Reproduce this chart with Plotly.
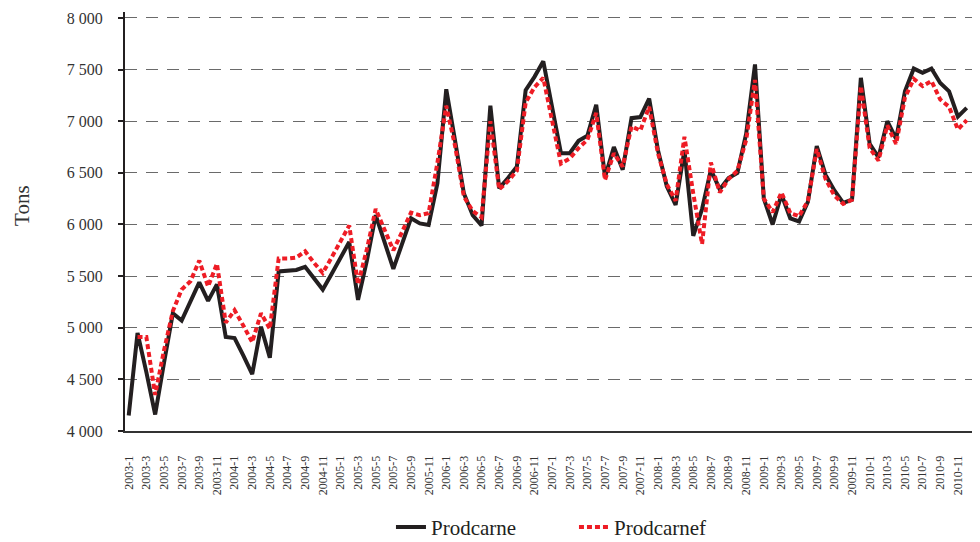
import plotly.graph_objects as go

years = list(range(2003, 2011))
months = [f"{y}-{m}" for y in years for m in range(1, 13)]
tick_labels = months[::2]

prodcarne = [
    4150, 4950, 4570, 4160, 4660, 5140, 5070, 5260, 5440, 5260, 5420, 4910,
    4900, 4730, 4550, 5010, 4710, 5545, 5550, 5560, 5590, 5480, 5370, 5520,
    5680, 5830, 5270, 5650, 6090, 5830, 5570, 5815, 6060, 6010, 5995, 6400,
    7310, 6810, 6300, 6090, 5990, 7150, 6350, 6450, 6560, 7300, 7430, 7580,
    7140, 6690, 6690, 6810, 6860, 7160, 6460, 6750, 6530, 7030, 7040, 7220,
    6720, 6370, 6190, 6720, 5890, 6150, 6530, 6340, 6450, 6500, 6880, 7550,
    6250, 6000, 6290, 6060, 6030, 6220, 6760, 6480, 6330, 6210, 6240, 7420,
    6780, 6650, 7000, 6830, 7290, 7510, 7470, 7510, 7370, 7290, 7045, 7130,
]

prodcarnef = [
    None, 4910, 4910, 4350, 4780, 5160, 5370, 5450, 5650, 5400, 5620, 5050,
    5170, 5020, 4860, 5140, 4990, 5670, 5670, 5680, 5740, 5630, 5530, 5680,
    5840, 5990, 5420, 5760, 6150, 5950, 5750, 5930, 6115, 6090, 6110, 6600,
    7150, 6760, 6270, 6130, 6070, 7000, 6340, 6420, 6520, 7180, 7330, 7420,
    7000, 6590, 6640, 6740, 6820, 7080, 6430, 6690, 6560, 6950, 6910, 7140,
    6690, 6390, 6230, 6850, 6300, 5810, 6600, 6310, 6440, 6520, 6820, 7400,
    6250, 6120, 6310, 6110, 6080, 6230, 6730, 6440, 6280, 6200, 6240, 7340,
    6740, 6620, 6960, 6780, 7230, 7410, 7340, 7390, 7210, 7140, 6920, 7010,
]

y_ticks = [4000, 4500, 5000, 5500, 6000, 6500, 7000, 7500, 8000]
y_tick_text = ["4 000", "4 500", "5 000", "5 500", "6 000", "6 500", "7 000", "7 500", "8 000"]

FONT = "Liberation Serif, Times New Roman, Times, serif"

fig = go.Figure()
fig.add_trace(go.Scatter(
    x=months, y=prodcarne, mode="lines", name="Prodcarne",
    line=dict(color="#231f20", width=4),
))
fig.add_trace(go.Scatter(
    x=months, y=prodcarnef, mode="lines", name="Prodcarnef",
    line=dict(color="#ee1c25", width=4, dash="5px,3px"),
))

# the page body adds an 8px offset, so the figure is 8px smaller on each side
fig.update_layout(
    width=972, height=534,
    margin=dict(l=117, r=2, t=4, b=111, autoexpand=False),
    plot_bgcolor="white", paper_bgcolor="white",
    font=dict(family=FONT, color="#333333"),
    showlegend=True,
    legend=dict(
        orientation="h", xanchor="left", x=0.3118, yanchor="middle", y=-0.230,
        font=dict(family=FONT, size=21, color="#231f20"),
        entrywidth=138, entrywidthmode="pixels",
        bgcolor="rgba(0,0,0,0)",
    ),
    xaxis=dict(
        type="category",
        range=[-0.42, 96.28],
        automargin=False,
        tickmode="array", tickvals=tick_labels, ticktext=tick_labels,
        tickangle=-90,
        tickfont=dict(family=FONT, size=12, color="#333333"),
        ticklabelstandoff=18,
        showgrid=False, zeroline=False,
        showline=True, linecolor="#333333", linewidth=2,
        ticks="",
    ),
    yaxis=dict(
        range=[4000, 8058],
        automargin=False,
        tickmode="array", tickvals=y_ticks, ticktext=y_tick_text,
        tickfont=dict(family=FONT, size=16, color="#333333"),
        ticks="outside", ticklen=5, tickcolor="#231f20", tickwidth=1.5,
        ticklabelstandoff=12,
        showgrid=True, gridcolor="#6a6a6a", gridwidth=1.3, griddash="12px,9px",
        zeroline=False,
        showline=True, linecolor="#231f20", linewidth=2,
    ),
    annotations=[dict(
        text="Tons", xref="paper", yref="paper", x=-0.1208, y=0.5394,
        xanchor="center", yanchor="middle", textangle=-90, showarrow=False,
        font=dict(family=FONT, size=21, color="#333333"),
    )],
)

fig.write_html("out.html")
